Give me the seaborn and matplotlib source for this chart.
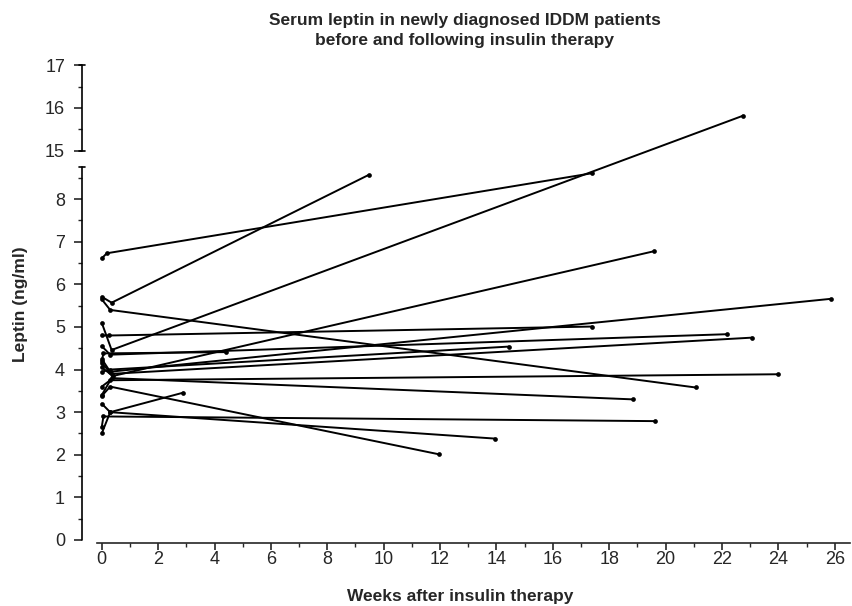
import pandas as pd
import numpy as np
import matplotlib
matplotlib.use("Agg")
import matplotlib.pyplot as plt
import seaborn as sns

# Leptin (ng/ml) per patient: at diagnosis, a few days later, and at follow-up
patient = list(range(1, 18))
base_week = [0, 0, 0, 0, 0, 0, 0, 0, 0, 0, 0, 0, 0, 0, 0, 0, 0]
base_leptin = [5.71, 6.61, 5.10, 4.05, 4.25, 4.80, 4.55, 4.15, 3.95, 4.20, 3.60, 5.65, 3.40, 2.65, 3.20, 3.38, 2.50]
early_week = [0.35, 0.18, 0.35, 0.40, 0.30, 0.27, 0.30, 0.35, 0.30, 0.06, 0.30, 0.30, 0.35, 0.06, 0.30, 0.30, 0.30]
early_leptin = [5.57, 6.73, 4.46, 3.85, 3.95, 4.80, 4.35, 3.90, 4.00, 4.38, 3.75, 5.40, 3.80, 2.90, 3.00, 3.60, 3.00]
follow_week = [9.47, 17.4, 22.75, 19.6, 25.85, 17.4, 22.16, 23.07, 14.45, 4.4, 23.97, 21.06, 18.86, 19.63, 13.95, 11.97, 2.9]
follow_leptin = [8.57, 8.61, 15.82, 6.78, 5.66, 5.01, 4.83, 4.75, 4.54, 4.41, 3.89, 3.58, 3.30, 2.79, 2.38, 2.01, 3.46]

# broken y axis: lower part 0-8.76, upper part 15-17
low_top = 8.76
gap = 0.38
shift = 15 - low_top - gap


def squash(v):
    v = np.asarray(v, dtype=float)
    return np.where(v > low_top, v - shift, v)


rows = []
for i, p in enumerate(patient):
    rows.append((p, base_week[i], base_leptin[i]))
    rows.append((p, early_week[i], early_leptin[i]))
    rows.append((p, follow_week[i], follow_leptin[i]))
veri = pd.DataFrame(rows, columns=["hasta", "hafta", "leptin"])
veri["y"] = squash(veri["leptin"])

sns.set_style("ticks")
plt.rcParams["font.family"] = ["Liberation Sans", "DejaVu Sans"]

fig = plt.figure(figsize=(8.53, 6.06), dpi=100)
ax = fig.add_axes([0.0958, 0.104, 0.9007, 0.7888])

sns.lineplot(data=veri, x="hafta", y="y", units="hasta", estimator=None,
             sort=False, color="black", linewidth=1.4, marker="o",
             markersize=3.4, markeredgewidth=0, ax=ax, legend=False)

xmin, xmax = -0.71, 26.54
ymin, ymax = -0.07, squash(17.0) + 0.01
ax.set_xlim(xmin, xmax)
ax.set_ylim(ymin, ymax)

# x axis
ax.spines["top"].set_visible(False)
ax.spines["right"].set_visible(False)
ax.spines["left"].set_visible(False)
ax.spines["bottom"].set_bounds(-0.18, xmax)
ax.spines["bottom"].set_linewidth(1.2)
ax.set_xticks(np.arange(0, 27, 2))
ax.set_xticks(np.arange(1, 27, 2), minor=True)
ax.tick_params(axis="x", which="major", length=5, width=1.2, labelsize=13, pad=1)
ax.tick_params(axis="x", which="minor", length=3, width=1)

# y axis (two segments)
major_vals = list(range(0, 9)) + [15, 16, 17]
minor_vals = [v + 0.5 for v in range(0, 9)] + [15.5, 16.5]
ax.set_yticks(squash(major_vals))
ax.set_yticklabels([str(v) for v in major_vals])
ax.set_yticks(squash(minor_vals), minor=True)
ax.tick_params(axis="y", which="major", length=6, width=1.2, labelsize=13, pad=6)
ax.tick_params(axis="y", which="minor", length=3, width=1)

ax.plot([xmin, xmin], [0, low_top], color="black", lw=1.2, clip_on=False)
ax.plot([xmin, xmin], [squash(15.0), squash(17.0)], color="black", lw=1.2, clip_on=False)
cap = 0.1
for yc in [low_top, squash(15.0), squash(17.0)]:
    ax.plot([xmin - cap, xmin + cap], [yc, yc], color="black", lw=1.2, clip_on=False)

ax.set_xlabel("")
ax.set_ylabel("Leptin (ng/ml)", fontsize=12.5, fontweight="bold", labelpad=12)
fig.text(0.54, 0.0149, "Weeks after insulin therapy",
         ha="center", va="center", fontsize=12.5, fontweight="bold")

fig.text(0.545, 0.966, "Serum leptin in newly diagnosed IDDM patients",
         ha="center", va="center", fontsize=12.5, fontweight="bold")
fig.text(0.545, 0.933, "before and following insulin therapy",
         ha="center", va="center", fontsize=12.5, fontweight="bold")

fig.savefig("out.png", dpi=100)
